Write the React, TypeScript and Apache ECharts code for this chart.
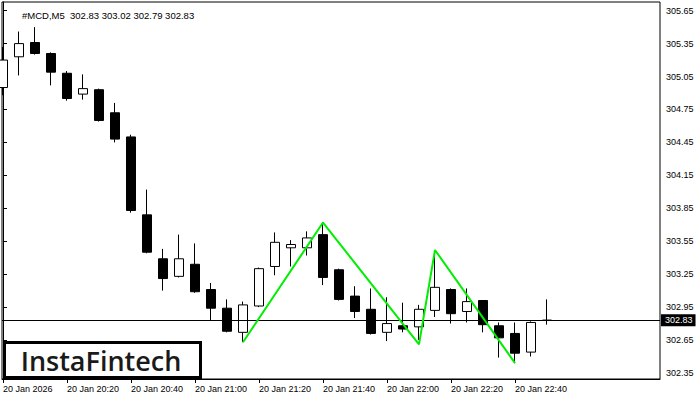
import React, { useEffect, useRef } from "react";
import * as echarts from "echarts";

const candleTimes = [
  "20:00", "20:05", "20:10", "20:15", "20:20", "20:25", "20:30", "20:35", "20:40", "20:45",
  "20:50", "20:55", "21:00", "21:05", "21:10", "21:15", "21:20", "21:25", "21:30", "21:35",
  "21:40", "21:45", "21:50", "21:55", "22:00", "22:05", "22:10", "22:15", "22:20", "22:25",
  "22:30", "22:35", "22:40", "22:45", "22:50",
];
const opens = [
  304.95, 305.23, 305.36, 305.26, 305.08, 304.89, 304.93, 304.72, 304.5, 303.79,
  303.39, 303.23, 303.34, 303.11, 302.94, 302.72, 302.96, 303.32, 303.49, 303.49,
  303.61, 303.29, 303.05, 302.93, 302.72, 302.78, 302.77, 302.92, 303.11, 302.91,
  303.01, 302.78, 302.71, 302.54, 302.83,
];
const highs = [
  305.32, 305.46, 305.5, 305.27, 305.1, 305.07, 304.94, 304.81, 304.52, 304.02,
  303.48, 303.61, 303.53, 303.17, 303.02, 303.0, 303.31, 303.63, 303.56, 303.64,
  303.72, 303.3, 303.14, 303.12, 303.04, 302.99, 302.97, 303.47, 303.12, 303.12,
  303.01, 302.81, 302.81, 302.82, 303.02,
];
const lows = [
  304.88, 305.06, 305.25, 304.97, 304.83, 304.84, 304.64, 304.45, 303.81, 303.44,
  303.1, 303.22, 303.08, 302.83, 302.72, 302.63, 302.95, 303.24, 303.32, 303.42,
  303.15, 303.01, 302.85, 302.7, 302.64, 302.72, 302.65, 302.86, 302.8, 302.81,
  302.72, 302.49, 302.44, 302.5, 302.79,
];
const closes = [
  305.2, 305.35, 305.26, 305.09, 304.85, 304.94, 304.65, 304.48, 303.83, 303.45,
  303.21, 303.39, 303.09, 302.94, 302.73, 302.97, 303.3, 303.54, 303.52, 303.58,
  303.22, 303.02, 302.91, 302.71, 302.8, 302.75, 302.93, 303.13, 302.89, 303.0,
  302.79, 302.67, 302.53, 302.81, 302.83,
];

const xTickIndex = [0, 4, 8, 12, 16, 20, 24, 28, 32];
const xTickLabels = [
  "20 Jan 2026", "20 Jan 20:20", "20 Jan 20:40", "20 Jan 21:00", "20 Jan 21:20",
  "20 Jan 21:40", "20 Jan 22:00", "20 Jan 22:20", "20 Jan 22:40",
];
const yTicks = [302.35, 302.65, 302.95, 303.25, 303.55, 303.85, 304.15, 304.45, 304.75, 305.05, 305.35, 305.65];

const patternIdx = [15, 20, 26, 27, 32];
const patternPrice = [302.63, 303.72, 302.61, 303.47, 302.44];

const lastPrice = 302.83;
const titleText = "#MCD,M5  302.83 303.02 302.79 302.83";
const logoText = "InstaFintech";

const FONT = "Liberation Sans";

export default function App() {
  const ref = useRef<HTMLDivElement>(null);
  useEffect(() => {
    document.body.style.margin = "0";
    if (!ref.current) return;
    const chart = echarts.init(ref.current, undefined, { renderer: "svg" });
    const candleData = candleTimes.map((_, i) => [i, opens[i], closes[i], lows[i], highs[i]]);
    const patternData = patternIdx.map((x, i) => [x, patternPrice[i]]);
    chart.setOption({
      animation: false,
      backgroundColor: "#fff",
      title: {
        text: titleText,
        left: 17,
        top: 5,
        textStyle: { fontSize: 9.5, fontWeight: "normal", color: "#000", fontFamily: FONT },
      },
      grid: {
        left: 2,
        top: 2,
        right: 40,
        bottom: 21,
        show: true,
        borderColor: "#000",
        borderWidth: 1,
        backgroundColor: "#fff",
      },
      xAxis: {
        type: "value",
        min: -0.0625,
        max: 41.0625,
        splitLine: { show: false },
        axisLine: { show: true, lineStyle: { color: "#000", width: 1 } },
        axisTick: { show: true, customValues: xTickIndex, length: 4, lineStyle: { color: "#000" } },
        axisLabel: {
          customValues: xTickIndex,
          align: "left",
          margin: 5,
          fontSize: 9,
          fontFamily: FONT,
          color: "#000",
          formatter: (v: number) => {
            const k = xTickIndex.indexOf(Math.round(v));
            return k >= 0 ? xTickLabels[k] : "";
          },
        },
      },
      yAxis: {
        type: "value",
        position: "right",
        min: 302.295,
        max: 305.729,
        splitLine: { show: false },
        axisLine: { show: true, lineStyle: { color: "#000", width: 1 } },
        axisTick: { show: true, customValues: yTicks, length: 4, lineStyle: { color: "#000" } },
        axisLabel: {
          customValues: yTicks,
          margin: 6,
          fontSize: 9,
          fontFamily: FONT,
          color: "#000",
          formatter: (v: number) => v.toFixed(2),
        },
      },
      series: [
        {
          type: "candlestick",
          data: candleData,
          barWidth: 10,
          clip: true,
          itemStyle: {
            color: "#fff",
            color0: "#000",
            borderColor: "#000",
            borderColor0: "#000",
            borderColorDoji: "#000",
            borderWidth: 1,
          },
          markLine: {
            silent: true,
            symbol: "none",
            data: [{ yAxis: lastPrice }],
            lineStyle: { color: "#000", width: 1, type: "solid" },
            label: {
              position: "end",
              distance: 1,
              formatter: lastPrice.toFixed(2),
              backgroundColor: "#000",
              color: "#fff",
              fontSize: 9,
              fontFamily: FONT,
              padding: [2, 3, 1, 4],
            },
          },
        },
        {
          type: "line",
          data: patternData,
          symbol: "none",
          lineStyle: { color: "#00ee00", width: 2 },
          z: 5,
        },
      ],
      graphic: [
        {
          type: "rect",
          shape: { x: 4.5, y: 342.5, width: 196, height: 35 },
          style: { fill: "#fff", stroke: "#000", lineWidth: 3 },
          z: 10,
        },
        {
          type: "text",
          x: 101,
          y: 360,
          style: {
            text: logoText,
            fontSize: 27,
            fontFamily: "Open Sans",
            fontWeight: 600,
            fill: "#1a1a1a",
            align: "center",
            verticalAlign: "middle",
          },
          z: 11,
        },
      ],
    });
    return () => chart.dispose();
  }, []);
  return <div ref={ref} style={{ width: 700, height: 400 }} />;
}
